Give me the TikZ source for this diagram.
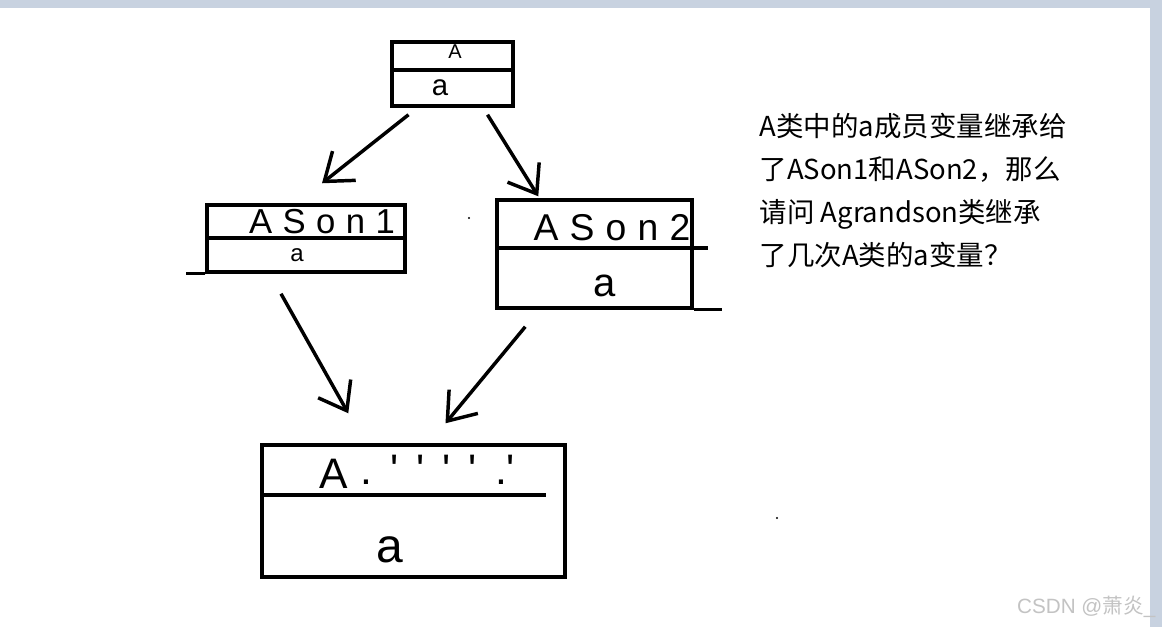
\documentclass[tikz,border=0pt]{standalone}
\usepackage{fontspec}
\setmainfont{Liberation Sans}
\newfontfamily\cjk{Noto Sans CJK SC}
\newfontfamily\hand{Liberation Sans}[LetterSpace=30]
\usetikzlibrary{arrows.meta,fit,calc}
\definecolor{frame}{RGB}{200,210,224}
\definecolor{mark}{RGB}{195,195,195}
\newcommand\tick{\hspace{0.42em}\textquotesingle}

\begin{document}
\begin{tikzpicture}[x=0.75pt, y=-0.75pt, line width=2.6pt,
  >={Straight Barb[length=19pt,width=28pt]},
  classbox/.style={draw, rectangle, inner sep=0pt},
  lbl/.style={inner sep=0pt, font=\fontsize{#1}{#1}\selectfont}]
  \useasboundingbox (0,0) rectangle (1162,627);
  \fill[frame] (0,0) rectangle (1162,627);
  \fill[white] (0,8) rectangle (1150,627);

  % class boxes
  \node[classbox, fit={(392,42) (513,106)}] (A) {};
  \node[classbox, fit={(207,205) (405,272)}] (ASon1) {};
  \node[classbox, fit={(497,200) (692,308)}] (ASon2) {};
  \node[classbox, fit={(262,445) (565,577)}] (G) {};

  % dividers and overhangs
  \draw (A.west |- 0,70) -- (A.east |- 0,70);
  \draw (ASon1.west |- 0,238) -- (ASon1.east |- 0,238);
  \draw (ASon1.south west) -- ++(-19,0);
  \draw (ASon2.west |- 0,248) -- ++(213,0);
  \draw (ASon2.south east) -- ++(28,0);
  \draw (G.west |- 0,495) -- ++(286,0);

  % names and members
  \node[lbl=15] (Aname) at (455,52) {A};
  \node[lbl=22] (Aa) at (440,88) {a};
  \node[lbl=26] (S1name) at (322,222) {\hand ASon1};
  \node[lbl=18] (S1a) at (297,255) {a};
  \node[lbl=28] (S2name) at (612,228) {\hand ASon2};
  \node[lbl=30] (S2a) at (605,286) {a};
  \node[lbl=32, anchor=west] (Gname) at (318,472)
    {A\raisebox{0.1em}{\hspace{0.3em}.\tick\tick\tick\tick\hspace{0.42em}.\textquotesingle}};
  \node[lbl=36] (Ga) at (390,550) {a};

  % inheritance
  \draw[->] ($(A.south)+(-44,7)$) -- ($(ASon1.north)+(16,-20)$);
  \draw[->] ($(A.south)+(35,7)$) -- ($(ASon2.north west)+(43,-2)$);
  \draw[->] ($(ASon1.south)+(-25,20)$) -- ($(G.north west)+(88,-30)$);
  \draw[->] ($(ASon2.south west)+(30,17)$) -- ($(G.north)+(32,-20)$);

  \foreach \p in {(469,218),(777,518)}
    \fill \p circle (1.2);

  \node[anchor=north west, align=left, inner sep=0pt,
    font=\cjk\fontsize{20.6}{32.4}\selectfont] (question) at (758,111)
    {A类中的a成员变量继承给\\了ASon1和ASon2，那么\\请问 Agrandson类继承\\了几次A类的a变量？};
  \node[lbl=15.5, text=mark, anchor=east] (credit) at (1157,607)
    {CSDN @{\cjk 萧炎}\_};
\end{tikzpicture}
\end{document}
